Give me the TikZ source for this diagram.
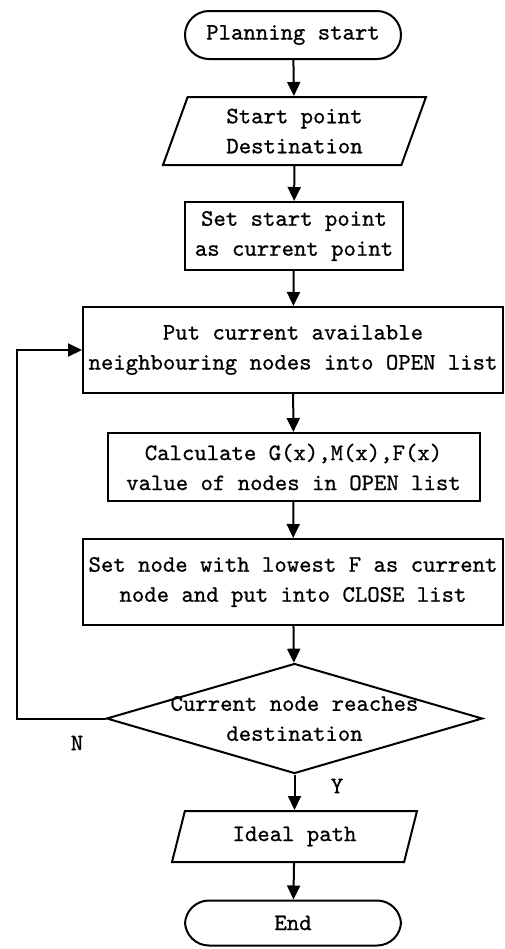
\documentclass[tikz,border=0pt]{standalone}
\usepackage{fontspec}
\newfontfamily\flowfont{lmmono10-regular}[Extension=.otf, FakeBold=0.8]
\usepackage{tikz}
\usetikzlibrary{arrows.meta,positioning,shapes.geometric}

\begin{document}
\begin{tikzpicture}[
    x=0.5pt, y=-0.5pt,
    every node/.style={font=\flowfont\fontsize{11.8}{15}\selectfont, align=center},
    term/.style={draw, line width=1pt, rounded corners=12pt, minimum width=108pt, minimum height=24pt},
    proc/.style={draw, line width=1pt, minimum height=34pt, inner sep=2pt},
    io/.style={draw, line width=1pt, trapezium, trapezium left angle=65, trapezium right angle=115,
               trapezium stretches body, inner sep=2pt},
    decide/.style={draw, line width=1pt, diamond, aspect=3.4, inner ysep=0pt, inner xsep=-7.5pt,
                   minimum width=188pt, minimum height=55pt},
    flow/.style={-{Triangle[length=7pt,width=6.5pt]}, line width=1pt},
]
\useasboundingbox (0,0) rectangle (504,949);

\node[term] (start) at (293,35) {Planning start};
\node[io, minimum width=131.5pt, minimum height=34pt] (input) at (294.5,131) {Start point\\Destination};
\node[proc, minimum width=109pt] (init) at (294,236) {Set start point\\as current point};
\node[proc, minimum width=210pt, minimum height=43pt] (open) at (293,350) {Put current available\\neighbouring nodes into OPEN list};
\node[proc, minimum width=186pt] (calc) at (293.5,467) {Calculate G(x),M(x),F(x)\\value of nodes in OPEN list};
\node[proc, minimum width=210pt, minimum height=43pt] (close) at (293,582) {Set node with lowest F as current\\node and put into CLOSE list};
\node[decide] (check) at (294.5,718.5) {Current node reaches\\destination};
\node[io, minimum width=122.5pt, minimum height=25.5pt] (path) at (294.5,836.5) {Ideal path};
\node[term, minimum height=22.5pt] (end) at (293,923) {End};

\coordinate (back) at (17,718.5);
\node (no) at (77,743) {N};
\node (yes) at (337,786) {Y};

% main chain
\draw[flow] (start) -- (input);
\draw[flow] (input) -- (init);
\draw[flow] (init) -- (open);
\draw[flow] (open) -- (calc);
\draw[flow] (calc) -- (close);
\draw[flow] (close) -- (check);
\draw[flow] (check) -- (path);
\draw[flow] (path) -- (end);

% loop back when not reached
\draw[flow] (check.west) -- (back) |- (open.west);
\end{tikzpicture}
\end{document}
